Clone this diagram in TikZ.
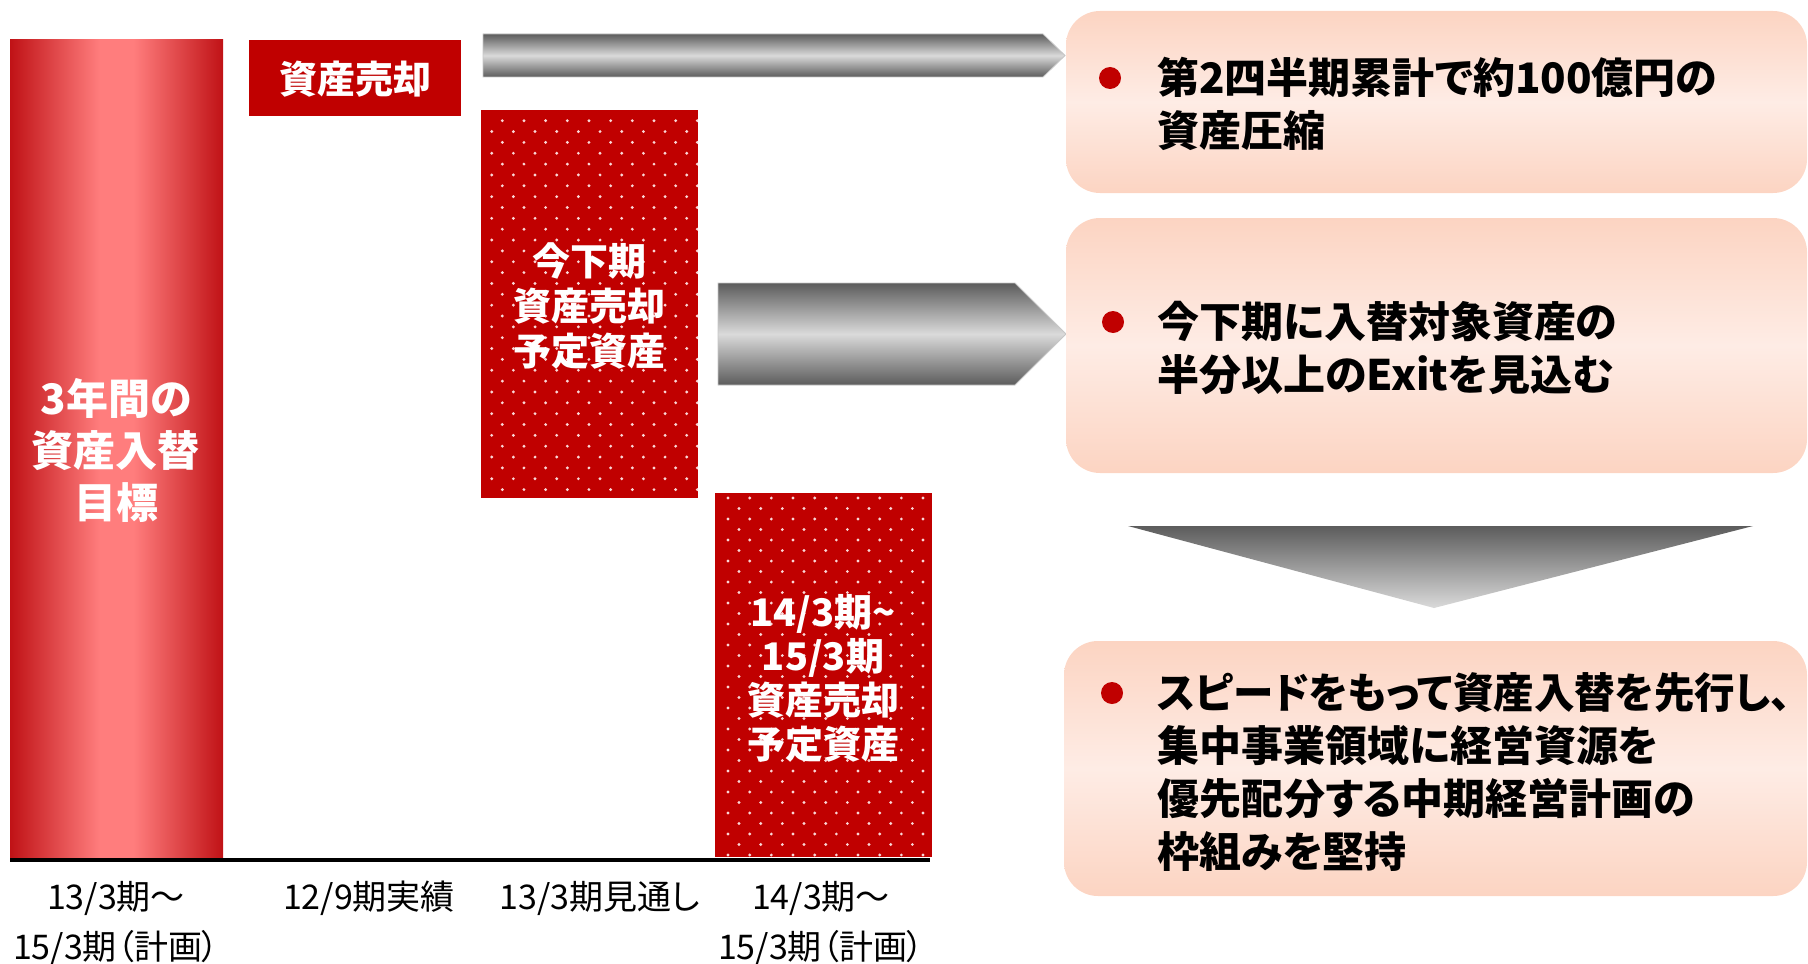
\documentclass[tikz,border=0pt]{standalone}
\usepackage{fontspec}
\newfontfamily\jp[RawFeature=+palt]{Noto Sans CJK JP}
\newfontfamily\jpc[RawFeature=+palt, FakeStretch=0.965]{Noto Sans CJK JP}
\definecolor{dred}{RGB}{192,0,0}
\definecolor{barlight}{RGB}{255,125,125}
\definecolor{baredge}{RGB}{192,18,22}
\definecolor{gdark}{RGB}{92,92,92}
\definecolor{glight}{RGB}{218,218,218}
\definecolor{peach}{RGB}{252,212,194}
\definecolor{peachlight}{RGB}{254,236,229}
\definecolor{dotc}{RGB}{250,215,215}
\pgfdeclarehorizontalshading{barshade}{100bp}{color(0bp)=(baredge); color(25bp)=(baredge); color(46bp)=(barlight); color(54bp)=(barlight); color(75bp)=(baredge); color(100bp)=(baredge)}
\tikzset{
  redtext/.style={text=white, font=\jp\bfseries\fontsize{19pt}{22.5pt}\selectfont, align=center, inner sep=0pt},
  bartext/.style={text=white, font=\jp\bfseries\fontsize{21pt}{26pt}\selectfont, align=center, inner sep=0pt},
  boxtext/.style={text=black, font=\jp\bfseries\fontsize{21pt}{26.5pt}\selectfont, align=left, inner sep=0pt, anchor=west},
  axlabel/.style={text=black, font=\jp\fontsize{17pt}{25pt}\selectfont, align=center, inner sep=0pt},
  peachbox/.style={rounded corners=17pt, top color=peach, bottom color=peach, middle color=peachlight},
  grayarrow/.style={top color=gdark, bottom color=gdark, middle color=glight, draw=gray!45, line width=0.4pt},
  bullet/.style={circle, fill=dred, inner sep=0pt, minimum size=11pt},
}
\begin{document}
\begin{tikzpicture}[x=0.5pt, y=-0.5pt]
\useasboundingbox (0,0) rectangle (1808,963);
% tall bar
\path[shading=barshade] (10,40) rectangle (223,857);
\node[bartext] (bartxt) at (116,450) {3年間の\\資産入替\\目標};
% small sale box
\fill[dred] (249,40) rectangle (461,116);
\node[redtext] (saletxt) at (355,79) {資産売却};
% dotted box 1
\fill[dred] (481,110) rectangle (698,498);
\begin{scope}
\clip (481,110) rectangle (698,498);
\foreach \i in {0,...,35}{
  \pgfmathsetmacro\yy{110+10.7+\i*10.85}
  \pgfmathsetmacro\xs{mod(\i,2)==0 ? 21.3 : 10.7}
  \foreach \j in {0,...,9}{
    \fill[dotc] ({481+\xs+\j*21.67},\yy) circle (0.8pt);
  }
}
\end{scope}
\node[redtext] (d1txt) at (589,306) {今下期\\資産売却\\予定資産};
% dotted box 2
\fill[dred] (715,493) rectangle (932,857);
\begin{scope}
\clip (715,493) rectangle (932,857);
\foreach \i in {0,...,34}{
  \pgfmathsetmacro\yy{493+5+\i*10.5}
  \pgfmathsetmacro\xs{mod(\i,2)==0 ? 13 : 24}
  \foreach \j in {0,...,9}{
    \fill[dotc] ({715+\xs+\j*21.67},\yy) circle (0.8pt);
  }
}
\end{scope}
\node[redtext, font=\jp\bfseries\fontsize{19pt}{22pt}\selectfont] (d2txt) at (823,678) {14/3期\textasciitilde\\15/3期\\資産売却\\予定資産};
% baseline
\draw[line width=2pt, black] (10,860) -- (930,860);
% axis labels
\node[axlabel] (l1) at (116,923) {13/3期～\\15/3期（計画）};
\node[axlabel] (l2) at (369,898) {12/9期実績};
\node[axlabel] (l3) at (600,898) {13/3期見通し};
\node[axlabel] (l4) at (821,923) {14/3期～\\15/3期（計画）};
% gray arrows
\path[grayarrow] (483,34) -- (1043,34) -- (1065,55.5) -- (1043,77) -- (483,77) -- cycle;
\path[grayarrow] (718,283) -- (1015,283) -- (1066,334) -- (1015,385) -- (718,385) -- cycle;
\path[top color=gdark, bottom color=glight, draw=none] (1128,526) -- (1753,526) -- (1434,608) -- cycle;
% peach boxes
\path[peachbox] (1066,11) rectangle (1807,193);
\path[peachbox] (1066,218) rectangle (1807,473);
\path[peachbox] (1064,641) rectangle (1807,896);
% bullets and texts
\node[bullet] (b1) at (1110,78) {};
\node[boxtext] (t1) at (1157,104) {第2四半期累計で約100億円の\\資産圧縮};
\node[bullet] (b2) at (1113,322) {};
\node[boxtext] (t2) at (1157,348) {今下期に入替対象資産の\\半分以上のExitを見込む};
\node[bullet] (b3) at (1112,693) {};
\node[boxtext] (t3) at (1157,772) {{\jpc スピードをもって資産入替を先行し、}\\集中事業領域に経営資源を\\優先配分する中期経営計画の\\枠組みを堅持};
\end{tikzpicture}
\end{document}
